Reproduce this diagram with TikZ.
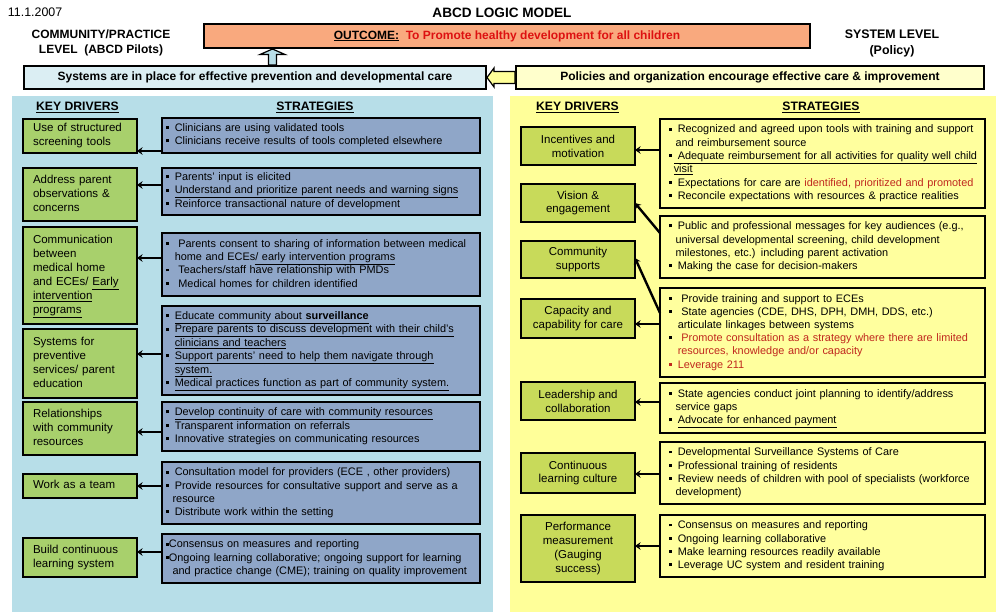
\documentclass[tikz,border=0pt]{standalone}
\usepackage{fontspec}
\setmainfont{Liberation Sans}
\usetikzlibrary{arrows.meta}
\definecolor{lbg}{HTML}{B7DEE8}
\definecolor{lgreen}{HTML}{A8D06C}
\definecolor{lslate}{HTML}{8FA6C8}
\definecolor{ybg}{HTML}{FFFF99}
\definecolor{ygreen}{HTML}{C8DA5A}
\definecolor{ystrat}{HTML}{FFFF9E}
\definecolor{salmon}{HTML}{F9A97E}
\definecolor{sysbar}{HTML}{DBEEF3}
\definecolor{polbar}{HTML}{FFFFCC}
\definecolor{ored}{HTML}{DD1111}
\definecolor{rred}{HTML}{C0281E}
\newcommand\bx{\raisebox{0.22em}{\rule{0.27em}{0.27em}}}
\newcommand\bu{\bx\kern0.2em}
\newcommand\ls[1]{\begin{tabular}{@{}l@{}}#1\end{tabular}}
\begin{document}
\begin{tikzpicture}[x=1pt,y=-1pt,
  every node/.style={inner sep=0pt,outer sep=0pt},
  hdr/.style={font=\fontsize{12.2}{14}\selectfont\bfseries},
  bar/.style={draw,line width=1.8pt,anchor=north west,minimum height=23pt,font=\fontsize{12}{14}\selectfont\bfseries},
  ldrv/.style={draw,line width=1.8pt,fill=lgreen,anchor=north west,text width=94pt,inner xsep=10pt,align=left,font=\fontsize{11.5}{14}\selectfont},
  lstr/.style={draw,line width=1.8pt,fill=lslate,anchor=north west,text width=310pt,inner xsep=4pt,align=left,font=\fontsize{10.9}{13.15}\selectfont},
  rdrv/.style={draw,line width=1.8pt,fill=ygreen,anchor=north west,minimum width=114pt,align=center,font=\fontsize{11.5}{13.8}\selectfont},
  rstr/.style={draw,line width=1.8pt,fill=ystrat,anchor=north west,text width=307pt,inner xsep=9pt,align=left,font=\fontsize{10.9}{13.2}\selectfont},
  conn/.style={line width=2.4pt,-{Stealth[length=5.5pt,width=7.5pt]}},
  blk/.style={draw,line width=1.2pt,line join=miter}
]
\useasboundingbox (0,0) rectangle (1008,612);
% panels
\fill[lbg] (12,96) rectangle (493,612);
\fill[ybg] (510,96) rectangle (996,612);
% header
\node[anchor=west,font=\fontsize{12.4}{14}\selectfont] (date) at (8,12) {11.1.2007};
\node[hdr,font=\fontsize{13.6}{15}\selectfont\bfseries] (title) at (502,13) {ABCD LOGIC MODEL};
\node[hdr,align=center,font=\fontsize{12}{15.5}\selectfont\bfseries] (comm) at (101,43) {COMMUNITY/PRACTICE\\LEVEL\ \ (ABCD Pilots)};
\node[hdr,align=center,font=\fontsize{12.4}{16}\selectfont\bfseries] (syslev) at (892,43) {SYSTEM LEVEL\\(Policy)};
\node[bar,fill=salmon,minimum width=606pt,minimum height=24pt] (outcome) at (204,24) {\underline{OUTCOME:}\ \ \textcolor{ored}{To Promote healthy development for all children}};
\node[bar,fill=sysbar,minimum width=462pt] (sys) at (24,66) {Systems are in place for effective prevention and developmental care};
\node[bar,fill=polbar,minimum width=468pt] (pol) at (516,66) {Policies and organization encourage effective care \& improvement};
% block arrows
\draw[blk,fill=lbg] (268.5,65) -- (268.5,54.5) -- (260,54.5) -- (272.5,49) -- (285,54.5) -- (276.5,54.5) -- (276.5,65) -- cycle;
\draw[blk,fill=ybg] (487,77.5) -- (494,68) -- (494,71.5) -- (515,71.5) -- (515,83.5) -- (494,83.5) -- (494,87) -- cycle;
% headings
\node[hdr] (lkd) at (77.5,107) {\underline{KEY DRIVERS}};
\node[hdr] (lst) at (315,107) {\underline{STRATEGIES}};
\node[hdr] (rkd) at (577.5,107) {\underline{KEY DRIVERS}};
\node[hdr] (rst) at (821,107) {\underline{STRATEGIES}};
% left drivers
\node[ldrv,minimum height=34pt] (d1) at (23,119) {\ls{Use of structured\\screening tools}};
\node[ldrv,minimum height=53pt] (d2) at (23,168) {\ls{Address parent\\observations \&\\concerns}};
\node[ldrv,minimum height=97pt] (d3) at (23,227) {\ls{Communication\\between\\medical home\\and ECEs/ \underline{Early}\\\underline{intervention}\\\underline{programs}}};
\node[ldrv,minimum height=69pt] (d4) at (23,329) {\ls{Systems for\\preventive\\services/ parent\\education}};
\node[ldrv,minimum height=53pt] (d5) at (23,402) {\ls{Relationships\\with community\\resources}};
\node[ldrv,minimum height=24pt] (d6) at (23,474) {\ls{Work as a team}};
\node[ldrv,minimum height=39pt] (d7) at (23,538) {\ls{Build continuous\\learning system}};
% left strategies
\node[lstr,minimum height=35pt] (s1) at (162,118) {\ls{\bu\ Clinicians are using validated tools\\\bu\ Clinicians receive results of tools completed elsewhere}};
\node[lstr,minimum height=47pt] (s2) at (162,168) {\ls{\bu\ Parents' input is elicited\\\bu\ \underline{Understand and prioritize parent needs and warning signs}\\\bu\ Reinforce transactional nature of development}};
\node[lstr,minimum height=63pt] (s3) at (162,233) {\ls{\bu\ \ Parents consent to sharing of information between medical\\\phantom{\bu\ }home and ECEs\underline{/ early intervention programs}\\\bu\ \ Teachers/staff have relationship with PMDs\\\bu\ \ Medical homes for children identified}};
\node[lstr,minimum height=89pt] (s4) at (162,306) {\ls{\bu\ \underline{Educate community about \textbf{surveillance}}\\\bu\ \underline{Prepare parents to discuss development with their child's}\\\phantom{\bu\ }\underline{clinicians and teachers}\\\bu\ \underline{Support parents' need to help them navigate through}\\\phantom{\bu\ }\underline{system.}\\\bu\ \underline{Medical practices function as part of community system.}}};
\node[lstr,minimum height=49pt] (s5) at (162,402) {\ls{\bu\ \underline{Develop continuity of care with community resources}\\\bu\ Transparent information on referrals\\\bu\ Innovative strategies on communicating resources}};
\node[lstr,minimum height=62pt] (s6) at (162,462) {\ls{\bu\ Consultation model for providers (ECE , other providers)\\\bu\ Provide resources for consultative support and serve as a\\\phantom{\bx}\ resource\\\bu\ Distribute work within the setting}};
\node[lstr,minimum height=49pt] (s7) at (162,534) {\ls{\bx Consensus on measures and reporting\\\bx Ongoing learning collaborative; ongoing support for learning\\\phantom{\bx}\ and practice change (CME); training on quality improvement}};
% right drivers
\node[rdrv,minimum height=38pt] (r1) at (521,127) {Incentives and\\motivation};
\node[rdrv,minimum height=38pt] (r2) at (521,184) {Vision \&\\engagement};
\node[rdrv,minimum height=37pt] (r3) at (521,241) {Community\\supports};
\node[rdrv,minimum height=39pt] (r4) at (521,299) {Capacity and\\capability for care};
\node[rdrv,minimum height=38pt] (r5) at (521,382) {Leadership and\\collaboration};
\node[rdrv,minimum height=40pt] (r6) at (521,453) {Continuous\\learning culture};
\node[rdrv,minimum height=67pt] (r7) at (521,515) {Performance\\measurement\\(Gauging\\success)};
% right strategies
\node[rstr,minimum height=89pt] (t1) at (660,119) {\ls{\bu\ Recognized and agreed upon tools with training and support\\\phantom{\bx}\ and reimbursement source\\\bu\underline{\ Adequate reimbursement for all activities for quality well child}\\\phantom{\bx}\,\underline{visit}\\\bu\ Expectations for care are \textcolor{rred}{identified, prioritized and promoted}\\\bu\ Reconcile expectations with resources \& practice realities}};
\node[rstr,minimum height=62pt] (t2) at (660,216) {\ls{\bu\ Public and professional messages for key audiences (e.g.,\\\phantom{\bx}\ universal developmental screening, child development\\\phantom{\bx}\ milestones, etc.) including parent activation\\\bu\ Making the case for decision-makers}};
\node[rstr,minimum height=89pt] (t3) at (660,288) {\ls{\bu\ \ Provide training and support to ECEs\\\bu\ \ State agencies (CDE, DHS, DPH, DMH, DDS, etc.)\\\phantom{\bu\ }articulate linkages between systems\\\bu\ \ \textcolor{rred}{Promote consultation as a strategy where there are limited}\\\phantom{\bu\ }\textcolor{rred}{resources, knowledge and/or capacity}\\\textcolor{rred}{\bu\ Leverage 211}}};
\node[rstr,minimum height=50pt] (t4) at (660,383) {\ls{\bu\ State agencies conduct joint planning to identify/address\\\phantom{\bx}\ service gaps\\\bu\ \underline{Advocate for enhanced payment}}};
\node[rstr,minimum height=62pt] (t5) at (660,442) {\ls{\bu\ Developmental Surveillance Systems of Care\\\bu\ Professional training of residents\\\bu\ Review needs of children with pool of specialists (workforce\\\phantom{\bx}\ development)}};
\node[rstr,minimum height=62pt] (t6) at (660,515) {\ls{\bu\ Consensus on measures and reporting\\\bu\ Ongoing learning collaborative\\\bu\ Make learning resources readily available\\\bu\ Leverage UC system and resident training}};
% connector heights
\coordinate (y1) at (0,151); \coordinate (y2) at (0,185); \coordinate (y3) at (0,258);
\coordinate (y4) at (0,354); \coordinate (y5) at (0,432); \coordinate (y6) at (0,486);
\coordinate (y7) at (0,552);
\coordinate (z1) at (0,150); \coordinate (z2a) at (0,233); \coordinate (z2b) at (0,203);
\coordinate (z3a) at (0,313); \coordinate (z3b) at (0,258); \coordinate (z4) at (0,324);
\coordinate (z5) at (0,402); \coordinate (z6) at (0,474); \coordinate (z7) at (0,546);
% left connectors
\draw[conn] (s1.west |- y1) -- (d1.east |- y1);
\draw[conn] (s2.west |- y2) -- (d2.east |- y2);
\draw[conn] (s3.west |- y3) -- (d3.east |- y3);
\draw[conn] (s4.west |- y4) -- (d4.east |- y4);
\draw[conn] (s5.west |- y5) -- (d5.east |- y5);
\draw[conn] (s6.west |- y6) -- (d6.east |- y6);
\draw[conn] (s7.west |- y7) -- (d7.east |- y7);
% right connectors
\draw[conn] (t1.west |- z1) -- (r1.east |- z1);
\draw[conn] (t2.west |- z2a) -- (r2.east |- z2b);
\draw[conn] (t3.west |- z3a) -- (r3.east |- z3b);
\draw[conn] (t3.west |- z4) -- (r4.east |- z4);
\draw[conn] (t4.west |- z5) -- (r5.east |- z5);
\draw[conn] (t5.west |- z6) -- (r6.east |- z6);
\draw[conn] (t6.west |- z7) -- (r7.east |- z7);
\end{tikzpicture}
\end{document}
